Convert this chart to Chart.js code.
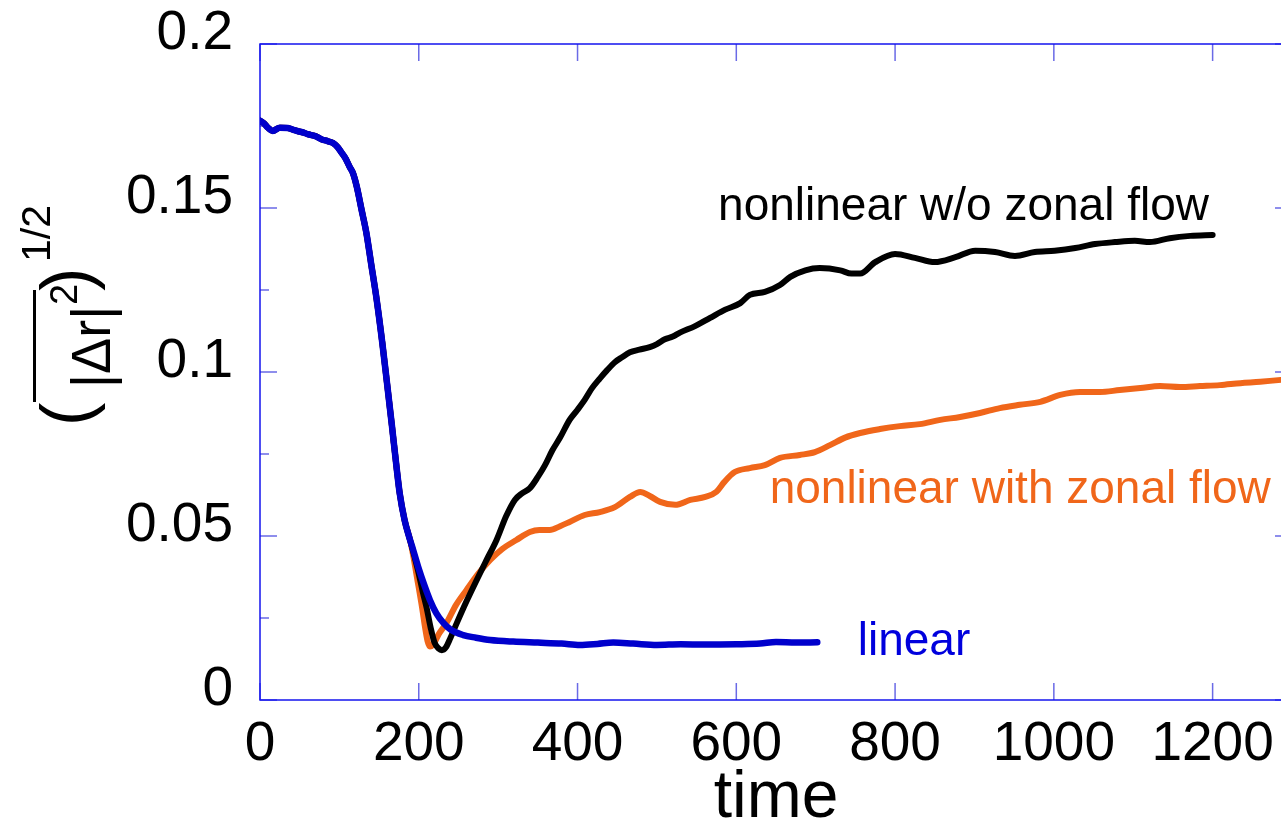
<!DOCTYPE html>
<html>
<head>
<meta charset="utf-8">
<script src="https://cdn.jsdelivr.net/npm/chart.js@4.4.1/dist/chart.umd.min.js"></script>
<style>
  html, body { margin: 0; padding: 0; background: #fff; overflow: hidden; }
  canvas { display: block; }
</style>
</head>
<body>
<canvas id="c" width="1300" height="824"></canvas>
<script>
// datos
const FONT = "'Liberation Sans', Arial, sans-serif";

// tramo inicial comun a las tres curvas
const startT = [0, 5, 10, 16, 25, 35, 42, 48, 55, 60, 70, 78, 85, 92, 98, 103, 108, 113, 117, 122, 128, 134, 140, 147, 154, 160, 166, 172, 176, 182, 189];
const startV = [0.1766, 0.1758, 0.1745, 0.1735, 0.1745, 0.1744, 0.1738, 0.1734, 0.1730, 0.1725, 0.1719, 0.1709, 0.1704, 0.1698, 0.1685, 0.1668, 0.1650, 0.1625, 0.1607, 0.1564, 0.1494, 0.1424, 0.1330, 0.1220, 0.1090, 0.0966, 0.0840, 0.0710, 0.0630, 0.0550, 0.0488];

// linear
const linT = [193, 200, 207, 214, 222, 231, 240, 256, 272, 290, 319, 350, 380, 403, 425, 445, 470, 500, 530, 560, 600, 630, 650, 675, 702];
const linV = [0.0457, 0.0400, 0.0350, 0.0305, 0.0265, 0.0235, 0.0215, 0.0198, 0.0190, 0.0183, 0.0178, 0.0175, 0.0172, 0.0168, 0.0171, 0.0175, 0.0172, 0.0168, 0.0170, 0.0169, 0.0170, 0.0172, 0.0177, 0.0175, 0.0176];

// nonlinear w/o zonal flow
const noZfT = [193, 200, 205, 210, 215, 220, 225, 229, 234, 240, 248, 260, 273, 285, 298, 310, 321, 330, 340, 350, 359, 368, 378, 390, 400, 409, 418, 428, 437, 447, 456, 466, 478, 491, 500, 510, 520, 529, 548, 567, 586, 605, 617, 636, 655, 668, 687, 705, 731, 745, 756, 775, 800, 825, 850, 876, 901, 926, 951, 976, 1001, 1027, 1052, 1077, 1102, 1121, 1146, 1172, 1200];
const noZfV = [0.0452, 0.0385, 0.0330, 0.0280, 0.0220, 0.0174, 0.0157, 0.0152, 0.0160, 0.0190, 0.0235, 0.0300, 0.0366, 0.0425, 0.0488, 0.0560, 0.0610, 0.0630, 0.0646, 0.0680, 0.0716, 0.0760, 0.0800, 0.0854, 0.0885, 0.0915, 0.0950, 0.0980, 0.1005, 0.1030, 0.1045, 0.1060, 0.1068, 0.1076, 0.1085, 0.1100, 0.1108, 0.1120, 0.1140, 0.1165, 0.1190, 0.1210, 0.1235, 0.1244, 0.1265, 0.1290, 0.1310, 0.1317, 0.1310, 0.1300, 0.1300, 0.1335, 0.1360, 0.1348, 0.1335, 0.1350, 0.1370, 0.1366, 0.1354, 0.1366, 0.1370, 0.1378, 0.1390, 0.1396, 0.1400, 0.1396, 0.1408, 0.1415, 0.1418];

// nonlinear with zonal flow
const zfT = [193, 198, 204, 208, 211, 214, 218, 225, 235, 247, 260, 275, 290, 305, 323, 340, 352, 365, 378, 390, 409, 428, 447, 466, 479, 491, 504, 523, 542, 561, 575, 585, 598, 617, 636, 655, 680, 699, 718, 737, 756, 781, 806, 831, 857, 882, 907, 932, 957, 983, 1008, 1033, 1058, 1083, 1109, 1134, 1159, 1184, 1209, 1235, 1260, 1286, 1300];
const zfV = [0.0440, 0.0370, 0.0284, 0.0220, 0.0180, 0.0163, 0.0168, 0.0200, 0.0235, 0.0290, 0.0335, 0.0385, 0.0427, 0.0460, 0.0488, 0.0512, 0.0518, 0.0518, 0.0530, 0.0543, 0.0564, 0.0573, 0.0588, 0.0619, 0.0634, 0.0622, 0.0604, 0.0595, 0.0610, 0.0619, 0.0635, 0.0665, 0.0695, 0.0707, 0.0716, 0.0738, 0.0747, 0.0756, 0.0777, 0.0800, 0.0814, 0.0826, 0.0835, 0.0841, 0.0854, 0.0863, 0.0875, 0.0890, 0.0900, 0.0909, 0.0930, 0.0939, 0.0939, 0.0945, 0.0951, 0.0957, 0.0954, 0.0957, 0.0960, 0.0966, 0.0970, 0.0976, 0.0980];

// ejes
const xTicks = [0, 200, 400, 600, 800, 1000, 1200];
const xTickLabels = ['0', '200', '400', '600', '800', '1000', '1200'];
const yTicks = [0, 0.05, 0.1, 0.15, 0.2];
const yTickLabels = ['0', '0.05', '0.1', '0.15', '0.2'];
const yMinor = [0.025, 0.075, 0.125, 0.175];

const ORANGE = '#f0661a';
const BLACK = '#000000';
const BLUE = '#0000cc';

function pts(t, v) {
    return t.map((tt, i) => ({ x: tt, y: v[i] }));
}

// marco azul con ticks hacia dentro
const framePlugin = {
    id: 'frame',
    beforeDatasetsDraw(chart) {
        const { ctx, chartArea: a, scales: { x, y } } = chart;
        ctx.save();
        ctx.lineWidth = 1.5;
        ctx.strokeStyle = '#6a6ae6';
        ctx.beginPath();
        xTicks.forEach(v => {
            const px = x.getPixelForValue(v);
            ctx.moveTo(px, a.bottom); ctx.lineTo(px, a.bottom - 17);
            ctx.moveTo(px, a.top); ctx.lineTo(px, a.top + 17);
        });
        yTicks.forEach(v => {
            const py = y.getPixelForValue(v);
            ctx.moveTo(a.left, py); ctx.lineTo(a.left + 17, py);
            ctx.moveTo(a.right, py); ctx.lineTo(a.right - 17, py);
        });
        yMinor.forEach(v => {
            const py = y.getPixelForValue(v);
            ctx.moveTo(a.left, py); ctx.lineTo(a.left + 9, py);
            ctx.moveTo(a.right, py); ctx.lineTo(a.right - 9, py);
        });
        ctx.stroke();
        ctx.strokeStyle = '#1414ee';
        ctx.strokeRect(a.left, a.top, a.right - a.left, a.bottom - a.top);
        ctx.restore();
    },
    afterDatasetsDraw(chart) {
        const { ctx, scales: { x, y } } = chart;
        ctx.save();
        ctx.font = '46px ' + FONT;
        ctx.textBaseline = 'alphabetic';
        ctx.textAlign = 'left';
        ctx.fillStyle = BLACK;
        ctx.fillText('nonlinear w/o zonal flow', x.getPixelForValue(577), y.getPixelForValue(0.1463));
        ctx.fillStyle = ORANGE;
        ctx.fillText('nonlinear with zonal flow', x.getPixelForValue(642), y.getPixelForValue(0.0601));
        ctx.fillStyle = '#0000dd';
        ctx.fillText('linear', x.getPixelForValue(753), y.getPixelForValue(0.0137));
        ctx.restore();
    },
    afterDraw(chart) {
        // titulo del eje y: (|Δr|²)^1/2 con barra encima
        const ctx = chart.ctx;
        function rot(txt, size, bx, sy, sq) {
            ctx.save();
            ctx.translate(bx, sy);
            ctx.rotate(-Math.PI / 2);
            if (sq) ctx.scale(sq, 1);
            ctx.font = size + 'px ' + FONT;
            ctx.textBaseline = 'alphabetic';
            ctx.textAlign = 'left';
            ctx.fillStyle = '#000';
            ctx.fillText(txt, 0, 0);
            ctx.restore();
        }
        rot('(', 70, 90, 426);
        rot('|\u0394r|', 56, 110, 388, 0.965);
        rot('2', 38, 77, 305);
        rot(')', 70, 90, 291);
        rot('1/2', 41, 50, 262);
        ctx.save();
        ctx.fillStyle = '#000';
        ctx.fillRect(33, 290, 3, 112);
        ctx.restore();
    }
};

var ctx = document.getElementById('c').getContext('2d');

var chart = new Chart(ctx, {
    type: 'line',
    data: {
        datasets: [{
            label: 'linear',
            data: pts(startT.concat(linT), startV.concat(linV)),
            borderColor: BLUE,
            borderWidth: 6.5
        }, {
            label: 'nonlinear w/o zonal flow',
            data: pts(startT.concat(noZfT), startV.concat(noZfV)),
            borderColor: BLACK,
            borderWidth: 6
        }, {
            label: 'nonlinear with zonal flow',
            data: pts(startT.concat(zfT), startV.concat(zfV)),
            borderColor: ORANGE,
            borderWidth: 6
        }]
    },
    options: {
        responsive: false,
        animation: false,
        events: [],
        layout: { padding: { top: 44, right: 8, left: 0, bottom: 0 } },
        elements: {
            point: { radius: 0 },
            line: { cubicInterpolationMode: 'monotone', borderCapStyle: 'round', borderJoinStyle: 'round' }
        },
        plugins: {
            legend: { display: false },
            tooltip: { enabled: false }
        },
        scales: {
            x: {
                type: 'linear',
                min: 0,
                max: 1300,
                afterFit(s) { s.height = 124; s.paddingLeft = 0; s.paddingRight = 0; },
                afterBuildTicks(s) { s.ticks = xTicks.map(v => ({ value: v })); },
                grid: { display: false, drawTicks: false },
                border: { display: false },
                ticks: {
                    autoSkip: false,
                    maxRotation: 0,
                    padding: 12,
                    color: '#000',
                    font: { size: 55, family: FONT },
                    callback: (v) => xTickLabels[xTicks.indexOf(v)]
                },
                title: {
                    display: true,
                    text: 'time',
                    color: '#000',
                    padding: 0,
                    font: { size: 66, family: FONT, lineHeight: 0.76 }
                }
            },
            y: {
                min: 0,
                max: 0.2,
                afterFit(s) { s.width = 260; s.paddingTop = 0; s.paddingBottom = 0; },
                afterBuildTicks(s) { s.ticks = yTicks.map(v => ({ value: v })); },
                grid: { display: false, drawTicks: false },
                border: { display: false },
                ticks: {
                    padding: 27,
                    labelOffset: -10,
                    color: '#000',
                    font: { size: 55, family: FONT },
                    callback: (v) => yTickLabels[yTicks.indexOf(v)]
                }
            }
        }
    },
    plugins: [framePlugin]
});
</script>
</body>
</html>
